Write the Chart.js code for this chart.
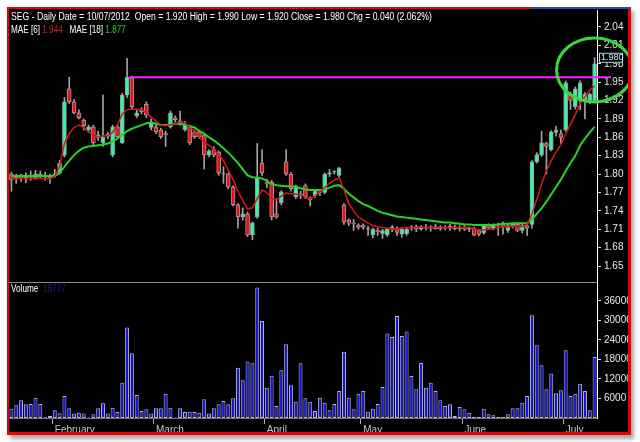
<!DOCTYPE html>
<html>
<head>
<meta charset="utf-8">
<script src="https://cdn.jsdelivr.net/npm/chart.js@4.4.1/dist/chart.umd.min.js"></script>
<style>
  html, body { margin: 0; padding: 0; background: #fff; }
  body { width: 640px; height: 442px; position: relative; overflow: hidden; font-family: 'Liberation Sans', Arial, sans-serif; }
  #frame { position: absolute; left: 7px; top: 7px; width: 619px; height: 423px; background: #000;
           border-top: 2px solid #e00; border-left: 2px solid #e00; border-right: 3px solid #e00; border-bottom: 3px solid #e00;
           box-shadow: 3px 4px 4px rgba(0,0,0,0.35); }
  #topblue { position: absolute; left: 530px; top: 7px; width: 101px; height: 2px; background: #3347b8; }
  #wrap { position: absolute; left: 0; top: 0; width: 619px; height: 423px; }
  .lbl { position: absolute; left: 2px; font-size: 10px; color: #fff; white-space: nowrap; transform-origin: 0 0; }
</style>
</head>
<body>
<div id="frame">
  <div id="wrap"><canvas id="chart"></canvas></div>
  <div class="lbl" id="head1" style="top:2px">SEG - Daily Date = 10/07/2012&nbsp; Open = 1.920 High = 1.990 Low = 1.920 Close = 1.980 Chg = 0.040 (2.062%)</div>
  <div class="lbl" id="head2" style="top:15px">MAE [6] <span style="color:#d42020">1.944</span>&nbsp;&nbsp; MAE [18] <span style="color:#33cc33">1.877</span></div>
  <div class="lbl" id="head3" style="top:274px">Volume&nbsp; <span style="color:#1c1c8a">18777</span></div>
</div>
<div id="topblue"></div>
<script>
// daily bars, 10 Jan 2012 .. 10 Jul 2012
const opens = [
  1.800, 1.792, 1.795, 1.793, 1.797, 1.794, 1.800, 1.796, 1.794, 1.797,
  1.802, 1.831, 1.939, 1.918, 1.900, 1.888, 1.872, 1.877, 1.860, 1.851,
  1.862, 1.831, 1.877, 1.851, 1.929, 1.957, 1.895, 1.905, 1.914, 1.876,
  1.877, 1.872, 1.866, 1.877, 1.892, 1.884, 1.872, 1.877, 1.869, 1.869,
  1.864, 1.831, 1.840, 1.836, 1.800, 1.800, 1.779, 1.750, 1.730, 1.735,
  1.701, 1.730, 1.818, 1.786, 1.787, 1.735, 1.753, 1.820, 1.800, 1.763,
  1.768, 1.781, 1.760, 1.765, 1.770, 1.770, 1.800, 1.803, 1.798, 1.750,
  1.725, 1.720, 1.717, 1.717, 1.710, 1.701, 1.708, 1.703, 1.701, 1.710,
  1.712, 1.702, 1.703, 1.712, 1.714, 1.710, 1.713, 1.712, 1.714, 1.711,
  1.713, 1.712, 1.714, 1.711, 1.713, 1.710, 1.712, 1.708, 1.704, 1.716,
  1.711, 1.716, 1.718, 1.708, 1.716, 1.718, 1.708, 1.716, 1.718, 1.820,
  1.831, 1.850, 1.840, 1.868, 1.866, 1.872, 1.930, 1.910, 1.920, 1.920,
  1.920, 1.920
];
const highs = [
  1.803, 1.800, 1.800, 1.802, 1.805, 1.806, 1.805, 1.803, 1.800, 1.808,
  1.822, 1.925, 1.958, 1.922, 1.905, 1.890, 1.880, 1.880, 1.870, 1.929,
  1.868, 1.880, 1.880, 1.932, 1.989, 1.960, 1.905, 1.908, 1.918, 1.890,
  1.880, 1.875, 1.870, 1.903, 1.895, 1.903, 1.886, 1.880, 1.872, 1.872,
  1.866, 1.840, 1.845, 1.838, 1.812, 1.802, 1.781, 1.752, 1.745, 1.738,
  1.722, 1.850, 1.840, 1.792, 1.790, 1.760, 1.773, 1.840, 1.803, 1.782,
  1.772, 1.784, 1.763, 1.775, 1.775, 1.802, 1.808, 1.806, 1.811, 1.752,
  1.727, 1.726, 1.719, 1.719, 1.715, 1.712, 1.712, 1.710, 1.711, 1.716,
  1.714, 1.712, 1.712, 1.716, 1.717, 1.716, 1.718, 1.716, 1.718, 1.716,
  1.716, 1.718, 1.717, 1.716, 1.716, 1.714, 1.713, 1.710, 1.718, 1.719,
  1.719, 1.720, 1.722, 1.718, 1.720, 1.720, 1.718, 1.719, 1.822, 1.835,
  1.870, 1.852, 1.871, 1.878, 1.872, 1.952, 1.934, 1.942, 1.952, 1.933,
  1.932, 1.990
];
const lows = [
  1.772, 1.785, 1.788, 1.786, 1.790, 1.792, 1.793, 1.790, 1.785, 1.795,
  1.800, 1.828, 1.915, 1.898, 1.890, 1.872, 1.868, 1.848, 1.855, 1.845,
  1.858, 1.828, 1.858, 1.850, 1.925, 1.905, 1.892, 1.898, 1.892, 1.872,
  1.866, 1.858, 1.845, 1.875, 1.885, 1.880, 1.870, 1.848, 1.858, 1.858,
  1.808, 1.828, 1.828, 1.798, 1.785, 1.776, 1.748, 1.712, 1.725, 1.698,
  1.693, 1.728, 1.798, 1.778, 1.725, 1.728, 1.750, 1.798, 1.772, 1.760,
  1.760, 1.760, 1.748, 1.762, 1.765, 1.768, 1.796, 1.800, 1.796, 1.718,
  1.716, 1.708, 1.710, 1.710, 1.700, 1.696, 1.700, 1.695, 1.698, 1.706,
  1.700, 1.697, 1.700, 1.708, 1.706, 1.708, 1.709, 1.707, 1.710, 1.708,
  1.709, 1.708, 1.709, 1.707, 1.708, 1.706, 1.699, 1.699, 1.702, 1.710,
  1.709, 1.700, 1.702, 1.705, 1.712, 1.706, 1.704, 1.700, 1.712, 1.818,
  1.829, 1.800, 1.838, 1.862, 1.850, 1.870, 1.905, 1.906, 1.905, 1.890,
  1.915, 1.920
];
const closes = [
  1.790, 1.795, 1.793, 1.797, 1.795, 1.800, 1.796, 1.795, 1.797, 1.800,
  1.818, 1.918, 1.918, 1.900, 1.892, 1.879, 1.877, 1.851, 1.864, 1.860,
  1.865, 1.877, 1.861, 1.929, 1.958, 1.910, 1.900, 1.902, 1.896, 1.885,
  1.869, 1.861, 1.864, 1.900, 1.889, 1.887, 1.882, 1.851, 1.861, 1.861,
  1.831, 1.838, 1.831, 1.802, 1.801, 1.779, 1.750, 1.730, 1.735, 1.701,
  1.720, 1.795, 1.802, 1.784, 1.730, 1.730, 1.771, 1.800, 1.776, 1.781,
  1.766, 1.763, 1.758, 1.772, 1.771, 1.800, 1.802, 1.804, 1.810, 1.722,
  1.720, 1.719, 1.713, 1.713, 1.711, 1.710, 1.706, 1.708, 1.710, 1.714,
  1.705, 1.710, 1.710, 1.714, 1.710, 1.714, 1.712, 1.714, 1.711, 1.714,
  1.712, 1.715, 1.711, 1.713, 1.710, 1.712, 1.701, 1.702, 1.716, 1.712,
  1.717, 1.715, 1.714, 1.716, 1.718, 1.708, 1.716, 1.712, 1.820, 1.832,
  1.851, 1.845, 1.869, 1.872, 1.860, 1.949, 1.920, 1.939, 1.949, 1.930,
  1.930, 1.980
];
const volume = [
  2860, 3900, 5440, 4200, 4300, 6250, 4300, 200, 600, 2370,
  1440, 6770, 2980, 1350, 1640, 1350, 150, 1130, 2980, 4510,
  1350, 3180, 1850, 10870, 27790, 19900, 7080, 2150, 2670, 1350,
  2980, 2980, 7490, 3180, 150, 2980, 1850, 1950, 1850, 1640,
  5740, 1350, 2980, 4200, 5230, 4200, 6050, 15480, 11590, 17330,
  16820, 40100, 29850, 9330, 13020, 3690, 14670, 22670, 10050, 5000,
  16820, 6050, 5000, 2150, 6250, 4720, 2370, 4300, 8300, 20400,
  6250, 2670, 7490, 8300, 1950, 2870, 4300, 9540, 25950, 24920,
  31380, 25230, 26560, 12920, 8820, 16920, 9330, 10870, 8300, 5440,
  3690, 4200, 600, 3380, 2670, 1640, 300, 300, 2870, 1130,
  820, 300, 300, 1130, 2980, 2980, 4720, 6770, 31600, 22360,
  16210, 8820, 13640, 7600, 8510, 20820, 6770, 7490, 10560, 8300,
  2370, 18777
];
const mae6 = [
  1.793, 1.793, 1.793, 1.793, 1.793, 1.793, 1.793, 1.793, 1.793, 1.796,
  1.812, 1.850, 1.866, 1.876, 1.880, 1.876, 1.869, 1.864, 1.861, 1.862,
  1.863, 1.868, 1.880, 1.898, 1.905, 1.906, 1.906, 1.905, 1.900, 1.893,
  1.886, 1.880, 1.879, 1.880, 1.882, 1.885, 1.884, 1.876, 1.871, 1.860,
  1.852, 1.847, 1.840, 1.832, 1.822, 1.806, 1.791, 1.772, 1.757, 1.743,
  1.745, 1.760, 1.774, 1.770, 1.760, 1.758, 1.764, 1.769, 1.768, 1.767,
  1.766, 1.762, 1.760, 1.764, 1.771, 1.778, 1.785, 1.790, 1.794, 1.775,
  1.752, 1.740, 1.730, 1.725, 1.720, 1.716, 1.714, 1.713, 1.712, 1.711,
  1.711, 1.712, 1.713, 1.713, 1.713, 1.714, 1.713, 1.713, 1.713, 1.713,
  1.713, 1.713, 1.713, 1.713, 1.713, 1.713, 1.711, 1.709, 1.709, 1.710,
  1.711, 1.713, 1.714, 1.714, 1.715, 1.715, 1.714, 1.718, 1.735, 1.758,
  1.784, 1.805, 1.822, 1.836, 1.848, 1.865, 1.881, 1.897, 1.915, 1.926,
  1.937, 1.944
];
const mae18 = [
  1.797, 1.797, 1.797, 1.797, 1.797, 1.797, 1.797, 1.797, 1.797, 1.797,
  1.802, 1.812, 1.822, 1.831, 1.838, 1.843, 1.845, 1.846, 1.847, 1.848,
  1.850, 1.853, 1.858, 1.864, 1.870, 1.874, 1.877, 1.880, 1.883, 1.884,
  1.882, 1.880, 1.880, 1.881, 1.882, 1.882, 1.880, 1.878, 1.876, 1.870,
  1.866, 1.860, 1.855, 1.849, 1.842, 1.835, 1.827, 1.818, 1.808, 1.798,
  1.795, 1.794, 1.793, 1.789, 1.784, 1.782, 1.781, 1.780, 1.780, 1.779,
  1.777, 1.775, 1.774, 1.774, 1.774, 1.775, 1.778, 1.781, 1.782, 1.776,
  1.768, 1.762, 1.756, 1.751, 1.748, 1.744, 1.740, 1.737, 1.735, 1.733,
  1.731, 1.730, 1.729, 1.728, 1.727, 1.726, 1.725, 1.724, 1.723, 1.722,
  1.721, 1.721, 1.720, 1.719, 1.718, 1.718, 1.717, 1.717, 1.717, 1.717,
  1.717, 1.718, 1.719, 1.719, 1.720, 1.720, 1.720, 1.720, 1.726, 1.735,
  1.744, 1.755, 1.767, 1.779, 1.791, 1.805, 1.818, 1.830, 1.847, 1.858,
  1.868, 1.877
];

const monthNames = ['February', 'March', 'April', 'May', 'June', 'July'];
const monthStart = [9, 30, 53, 73, 94, 115];
const priceTicks = [1.65, 1.68, 1.71, 1.74, 1.77, 1.80, 1.83, 1.86, 1.89, 1.92, 1.95, 1.98, 2.01, 2.04];
const volumeTicks = [6000, 12000, 18000, 24000, 30000, 36000];
const resistance = 1.958;   // pink line
const resistFrom = 25;

const days = closes.map((_, i) => i);
const bodies = opens.map((o, i) => [o, closes[i]]);
const wicks = lows.map((l, i) => [l, highs[i]]);
const bodyColors = opens.map((o, i) => (closes[i] >= o ? '#33f5a6' : '#f01010'));

Chart.defaults.font.family = "'Liberation Sans Narrow', 'Liberation Sans', Arial, sans-serif";
Chart.defaults.font.size = 10;
Chart.defaults.color = '#e8e8e8';

const extras = {
  id: 'extras',
  afterDraw(chart) {
    const c = chart.ctx;
    const area = chart.chartArea;
    const x = chart.scales.x;
    const y = chart.scales.y;
    const yv = chart.scales.yVol;
    c.save();
    // panel divider
    c.strokeStyle = '#8a8a8a';
    c.lineWidth = 1;
    c.beginPath();
    c.moveTo(area.left, Math.round(yv.top) + 0.5);
    c.lineTo(area.right, Math.round(yv.top) + 0.5);
    c.stroke();
    // resistance line
    c.strokeStyle = '#ff22ff';
    c.lineWidth = 2;
    const ry = y.getPixelForValue(resistance);
    c.beginPath();
    c.moveTo(x.getPixelForValue(resistFrom) - 3, ry);
    c.lineTo(area.right + 14, ry);
    c.stroke();
    // ellipse round the last bars
    const last = closes.length - 1;
    c.strokeStyle = '#3ad83a';
    c.lineWidth = 3;
    c.beginPath();
    c.ellipse(x.getPixelForValue(last), y.getPixelForValue(1.97), 38, 32, 0, 0, Math.PI * 2);
    c.stroke();
    // last close marker
    const cy = y.getPixelForValue(closes[last]);
    c.fillStyle = '#000';
    c.fillRect(area.right + 2, cy - 11, 24, 10);
    c.strokeStyle = '#a8d8e8';
    c.lineWidth = 1;
    c.strokeRect(area.right + 2.5, cy - 10.5, 23, 9);
    c.fillStyle = '#d8e8f0';
    c.font = "9px 'Liberation Sans', Arial";
    c.textBaseline = 'middle';
    c.fillText(closes[last].toFixed(3), area.right + 4, cy - 6);
    c.restore();
  }
};

function fitRight(s) {
  s.width = 31;
  s.paddingTop = 0;
  s.paddingBottom = 0;
}

new Chart(document.getElementById('chart'), {
  data: {
    labels: days,
    datasets: [
      {
        type: 'bar', label: 'Volume', data: volume, yAxisID: 'yVol',
        backgroundColor: '#1414f0', borderColor: '#b8b8b8', borderWidth: 1, borderSkipped: false,
        barPercentage: 0.82, categoryPercentage: 1, grouped: false, order: 5,
      },
      {
        type: 'bar', label: 'Range', data: wicks, yAxisID: 'y',
        backgroundColor: '#a4a4a4', barThickness: 1, grouped: false, order: 4,
      },
      {
        type: 'bar', label: 'Body', data: bodies, yAxisID: 'y',
        backgroundColor: bodyColors, borderColor: '#9c9c9c', borderWidth: 1, borderSkipped: false,
        barThickness: 4, grouped: false, order: 3,
      },
      {
        type: 'line', label: 'MAE [18]', data: mae18, yAxisID: 'y',
        borderColor: '#2ad12a', borderWidth: 2, pointRadius: 0, order: 2,
      },
      {
        type: 'line', label: 'MAE [6]', data: mae6, yAxisID: 'y',
        borderColor: '#d81818', borderWidth: 1.5, pointRadius: 0, order: 1,
      },
    ],
  },
  options: {
    responsive: true,
    maintainAspectRatio: false,
    animation: false,
    layout: { padding: { top: 1, left: 0, right: 0, bottom: 0 } },
    plugins: { legend: { display: false }, tooltip: { enabled: false } },
    scales: {
      x: {
        offset: true,
        grid: {
          offset: true, drawOnChartArea: false, tickLength: 6,
          color: (ctx) => (monthStart.includes(ctx.index) ? '#b0b0b0' : 'transparent'),
        },
        border: { color: '#707070' },
        ticks: {
          autoSkip: false, maxRotation: 0, align: 'start', padding: 0, color: '#c8c8c8',
          callback: (v, i) => {
            const k = monthStart.indexOf(i);
            return k >= 0 ? monthNames[k] : '';
          },
        },
        afterFit: (s) => { s.height = 14; s.paddingLeft = 0; s.paddingRight = 0; },
      },
      y: {
        position: 'right', stack: 'panes', stackWeight: 2,
        min: 1.624, max: 2.0677,
        grid: { drawOnChartArea: false, tickLength: 4, color: '#e0e0e0' },
        border: { color: '#ffffff' },
        afterBuildTicks: (s) => { s.ticks = priceTicks.map((v) => ({ value: v })); },
        ticks: { autoSkip: false, padding: 3, callback: (v) => Number(v).toFixed(2) },
        afterFit: fitRight,
      },
      yVol: {
        position: 'right', stack: 'panes', stackWeight: 1,
        min: 0, max: 41800,
        grid: { drawOnChartArea: false, tickLength: 4, color: '#e0e0e0' },
        border: { color: '#ffffff' },
        afterBuildTicks: (s) => { s.ticks = volumeTicks.map((v) => ({ value: v })); },
        ticks: { autoSkip: false, padding: 3, callback: (v) => String(v) },
        afterFit: fitRight,
      },
    },
  },
  plugins: [extras],
});

// squeeze the header lines to the width they take in the picture
[['head1', 421], ['head2', 115], ['head3', 55]].forEach(([id, w]) => {
  const el = document.getElementById(id);
  el.style.transform = 'scaleX(' + (w / el.scrollWidth).toFixed(3) + ')';
});
</script>
</body>
</html>
